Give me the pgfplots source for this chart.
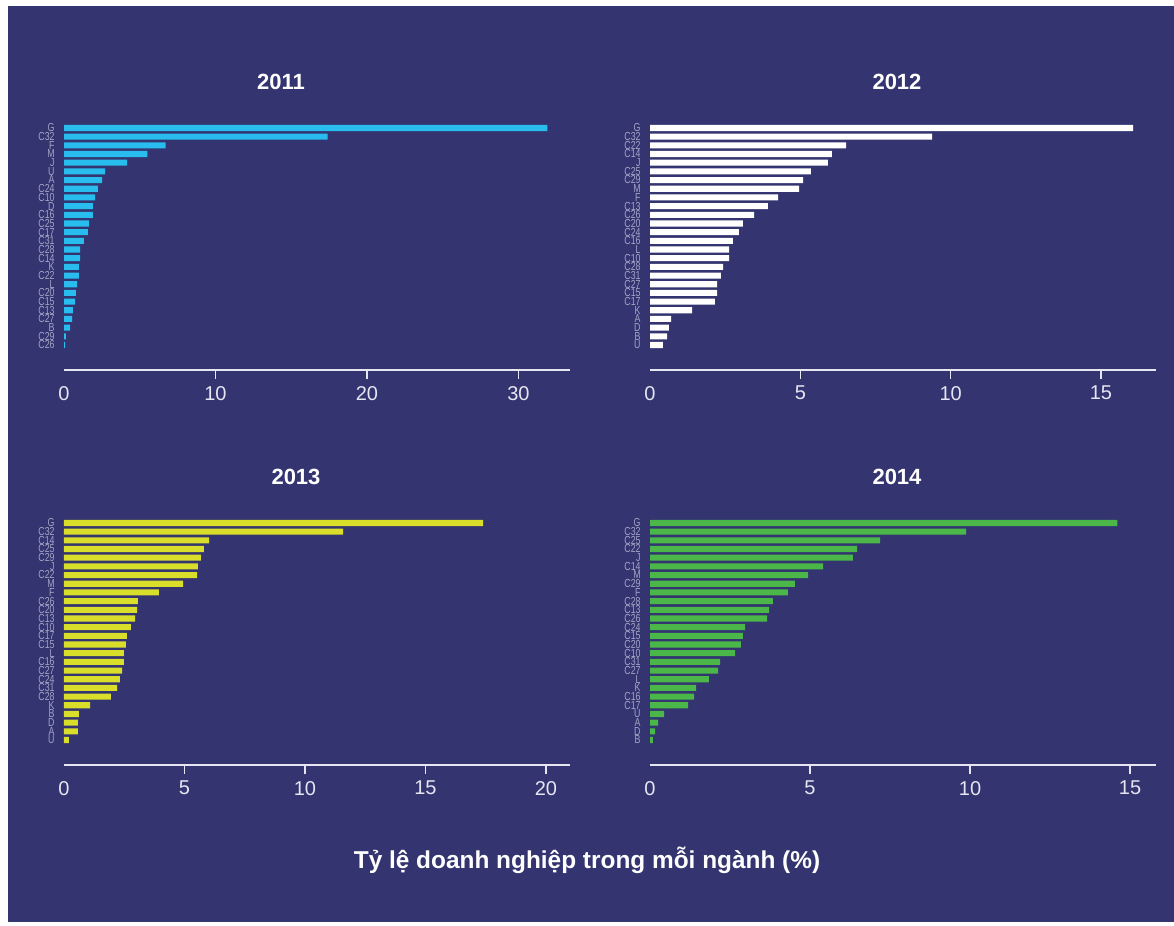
\documentclass[border=0pt]{standalone}
\usepackage{pgfplots}
\pgfplotsset{compat=1.18}
\usepackage{fontspec}
\setmainfont{Liberation Sans}
\newfontfamily\narrowfont[FakeStretch=0.76]{Liberation Sans}
\definecolor{navy}{HTML}{333470}
\definecolor{cyanbar}{HTML}{29BCEE}
\definecolor{yellowbar}{HTML}{D9DE2B}
\definecolor{greenbar}{HTML}{4AB748}
\definecolor{axisline}{HTML}{E6E6F2}
\definecolor{ticktext}{HTML}{E6E6F2}
\definecolor{labgray}{HTML}{A4A4C6}

% 1 px of the reference = 0.5pt
\pgfplotsset{panel/.style={
 scale only axis, width=253pt, height=125.35pt,
 xmin=0, ymin=-1.88, ymax=27,
 axis x line*=bottom, axis y line*=left,
 y axis line style={draw=none},
 x axis line style={draw=axisline, line width=0.75pt},
 ytick={1,...,26}, ytick style={draw=none},
 yticklabel style={font=\narrowfont\fontsize{5.8}{6}\selectfont, text=labgray, inner sep=0pt, xshift=0pt, text height=3.9pt, text depth=0pt},
 tick align=outside, major tick length=4.5pt,
 xtick style={draw=axisline, line width=0.75pt},
 extra x ticks={0}, extra x tick style={major tick length=0pt, xticklabel style={yshift=-4.5pt}},
 xticklabel style={font=\fontsize{10}{12}\selectfont, text=ticktext},
 /pgf/number format/assume math mode=true,
 xbar, bar width=0.7,
}}

\begin{document}
\begin{tikzpicture}
\fill[white] (0pt,0pt) rectangle (587pt,-463pt);
\fill[navy] (4pt,-3pt) rectangle (587pt,-461pt);

% 2011
\begin{axis}[panel, at={(32pt,-185pt)}, anchor=south west, xmax=33.4,
 xtick={10,20,30},
 yticklabels={C26,C29,B,C27,C13,C15,C20,L,C22,K,C14,C28,C31,C17,C25,C16,D,C10,C24,A,U,J,M,F,C32,G}]
\addplot[fill=cyanbar, draw=none] coordinates {
(31.9,26) (17.4,25) (6.7,24) (5.5,23) (4.16,22) (2.71,21) (2.51,20) (2.24,19) (2.05,18)
(1.91,17) (1.91,16) (1.65,15) (1.58,14) (1.32,13) (1.06,12) (1.06,11) (0.99,10) (0.99,9)
(0.86,8) (0.79,7) (0.73,6) (0.59,5) (0.53,4) (0.40,3) (0.13,2) (0.07,1)};
\end{axis}

% 2012
\begin{axis}[panel, at={(325pt,-185pt)}, anchor=south west, xmax=16.83,
 xtick={5,10,15},
 yticklabels={U,B,D,A,K,C17,C15,C27,C31,C28,C10,L,C16,C24,C20,C26,C13,F,M,C29,C25,J,C14,C22,C32,G}]
\addplot[fill=white, draw=none] coordinates {
(16.07,26) (9.38,25) (6.52,24) (6.05,23) (5.92,22) (5.35,21) (5.09,20) (4.96,19) (4.26,18)
(3.92,17) (3.46,16) (3.09,15) (2.96,14) (2.76,13) (2.63,12) (2.63,11) (2.43,10) (2.36,9)
(2.23,8) (2.23,7) (2.16,6) (1.40,5) (0.70,4) (0.63,3) (0.57,2) (0.43,1)};
\end{axis}

% 2013
\begin{axis}[panel, at={(32pt,-382.5pt)}, anchor=south west, xmax=21.0,
 xtick={5,10,15,20},
 yticklabels={U,A,D,B,K,C28,C31,C24,C27,C16,L,C15,C17,C10,C13,C20,C26,F,M,C22,J,C29,C25,C14,C32,G}]
\addplot[fill=yellowbar, draw=none] coordinates {
(17.39,26) (11.58,25) (6.02,24) (5.81,23) (5.68,22) (5.56,21) (5.52,20) (4.94,19) (3.94,18)
(3.07,17) (3.03,16) (2.95,15) (2.78,14) (2.61,13) (2.57,12) (2.49,11) (2.49,10) (2.41,9)
(2.32,8) (2.20,7) (1.95,6) (1.08,5) (0.62,4) (0.58,3) (0.58,2) (0.20,1)};
\end{axis}

% 2014
\begin{axis}[panel, at={(325pt,-382.5pt)}, anchor=south west, xmax=15.81,
 xtick={5,10,15},
 yticklabels={B,D,A,U,C17,C16,K,L,C27,C31,C10,C20,C15,C24,C26,C13,C28,F,C29,M,C14,J,C22,C25,C32,G}]
\addplot[fill=greenbar, draw=none] coordinates {
(14.60,26) (9.88,25) (7.19,24) (6.47,23) (6.34,22) (5.41,21) (4.94,20) (4.53,19) (4.31,18)
(3.84,17) (3.72,16) (3.66,15) (2.97,14) (2.90,13) (2.84,12) (2.66,11) (2.19,10) (2.13,9)
(1.84,8) (1.44,7) (1.38,6) (1.19,5) (0.44,4) (0.25,3) (0.16,2) (0.09,1)};
\end{axis}

\begin{scope}[every node/.style={text=white, font=\bfseries\fontsize{11}{13}\selectfont}]
\node at (140.5pt,-41pt) {2011};
\node at (448.5pt,-41pt) {2012};
\node at (148pt,-238.5pt) {2013};
\node at (448.5pt,-238.5pt) {2014};
\node[font=\bfseries\fontsize{12.2}{14}\selectfont] at (293.5pt,-430pt) {Tỷ lệ doanh nghiệp trong mỗi ngành (\%)};
\end{scope}
\end{tikzpicture}
\end{document}
